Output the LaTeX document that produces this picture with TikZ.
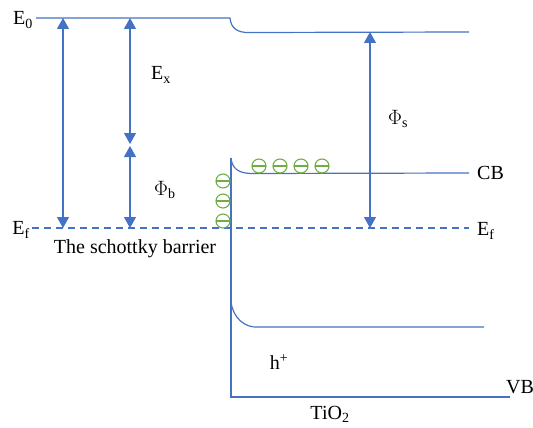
\documentclass[tikz,border=0pt]{standalone}
\usepackage{fontspec}
\setmainfont{Liberation Serif}
\usetikzlibrary{arrows.meta}
\definecolor{bandblue}{HTML}{4472C4}
\definecolor{egreen}{HTML}{70AD47}
\tikzset{
  band/.style={draw=bandblue, line width=1.2pt},
  dimboth/.style={draw=bandblue, line width=1.2pt, {Triangle[width=12pt,length=11pt]}-{Triangle[width=12pt,length=11pt]}},
  lbl/.style={inner sep=0pt, font=\fontsize{20}{22}\selectfont},
  elec/.style={circle, draw=egreen, line width=1.1pt, minimum size=14pt, inner sep=0pt,
    path picture={\draw[egreen, line width=1.1pt] (path picture bounding box.west) -- (path picture bounding box.east);}}
}
\begin{document}
\begin{tikzpicture}[x=1pt,y=-1pt]
\useasboundingbox (0,0) rectangle (533,428);
% coordinates
\coordinate (e0l) at (36,18);
\coordinate (e0k) at (230,18);
\coordinate (e0r) at (469,32);
\coordinate (efl) at (32,228);
\coordinate (efr) at (469,228);
\coordinate (cbtop) at (231,158);
\coordinate (cbr) at (469,173);
\coordinate (vbtop) at (231,302);
\coordinate (vbr) at (484,327);
\coordinate (bot) at (231,397);
\coordinate (botr) at (510,397);
\coordinate (a1t) at (63,18);
\coordinate (a1b) at (63,228);
\coordinate (a2t) at (130,18);
\coordinate (a2m1) at (130,144);
\coordinate (a2m2) at (130,146);
\coordinate (a2b) at (130,228);
\coordinate (a3t) at (370,32);
\coordinate (a3b) at (370,228);
% bands
\draw[band] (e0l) -- (e0k) .. controls (231,28) and (237,33) .. (250,32.5) -- (e0r);
\draw[band, dashed, dash pattern=on 7pt off 5pt] (efl) -- (efr);
\draw[band] (cbtop) .. controls (232,168) and (238,173.5) .. (252,173.5) -- (cbr);
\draw[band] (vbtop) .. controls (233,318) and (245,328) .. (258,327) -- (vbr);
\draw[band] (cbtop) -- (bot) -- (botr);
% arrows
\draw[dimboth] (a1t) -- (a1b);
\draw[dimboth] (a2t) -- (a2m1);
\draw[dimboth] (a2m2) -- (a2b);
\draw[dimboth] (a3t) -- (a3b);
% labels
\node[lbl, anchor=east] (le0) at (33,20) {E\textsubscript{0}};
\node[lbl, anchor=west] (lex) at (151,75) {E\textsubscript{x}};
\node[lbl, anchor=west] (lphib) at (154,190) {$\Phi$\textsubscript{b}};
\node[lbl, anchor=west] (lphis) at (388,119) {$\Phi$\textsubscript{s}};
\node[lbl, anchor=east] (lefl) at (30,230) {E\textsubscript{f}};
\node[lbl, anchor=west] (lefr) at (477,231) {E\textsubscript{f}};
\node[lbl, anchor=west] (lcb) at (477,173) {CB};
\node[lbl, anchor=west] (lvb) at (506,387) {VB};
\node[lbl] (lsch) at (135,249) {The schottky barrier};
\node[lbl] (lh) at (279,362) {h\textsuperscript{+}};
\node[lbl] (ltio) at (330,414) {TiO\textsubscript{2}};
% electrons
\node[elec] (c1) at (259,166) {};
\node[elec] (c2) at (280,166) {};
\node[elec] (c3) at (301,166) {};
\node[elec] (c4) at (322,166) {};
\node[elec] (s1) at (223,181) {};
\node[elec] (s2) at (223,201) {};
\node[elec] (s3) at (223,221) {};
\end{tikzpicture}
\end{document}
